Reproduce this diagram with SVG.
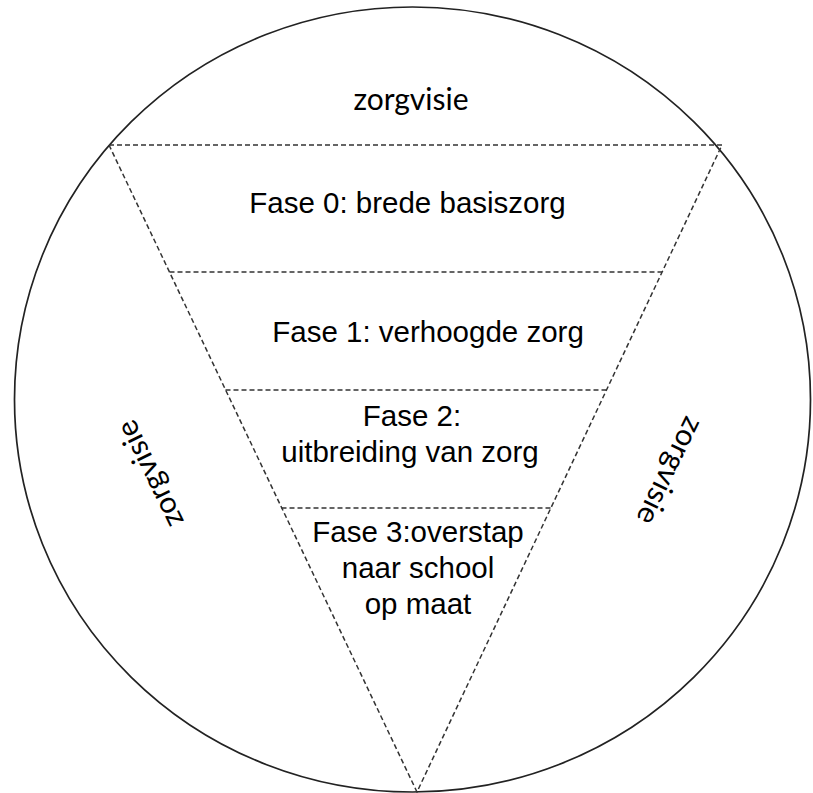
<svg xmlns="http://www.w3.org/2000/svg" width="813" height="793" viewBox="0 0 813 793">
<style>
.outer{fill:none;stroke:#222;stroke-width:1.7}
.dash{fill:none;stroke:#333;stroke-width:1.5;stroke-dasharray:5 3}
.lbl{font-family:"Liberation Sans",Arial,sans-serif;font-size:29.5px;fill:#000;text-anchor:middle}
.vis{font-family:Lato,"Open Sans",sans-serif;font-size:30px;fill:#000;text-anchor:middle}
</style>
<rect width="813" height="793" fill="#fff"/>
<g id="circle">
<ellipse class="outer" cx="412.5" cy="399.5" rx="398" ry="392.5"/>
</g>
<g id="connectors">
<polyline class="dash" points="109,145 722,145 417,792 109,145"/>
<line class="dash" x1="169.5" y1="272" x2="662" y2="272"/>
<line class="dash" x1="225.5" y1="390" x2="606" y2="390"/>
<line class="dash" x1="281.5" y1="508" x2="551" y2="508"/>
</g>
<g id="zorgvisie-top"><text class="vis" x="411" y="110">zorgvisie</text></g>
<g id="zorgvisie-left"><text class="vis" transform="translate(150,474) rotate(-116)" x="0" y="10">zorgvisie</text></g>
<g id="zorgvisie-right"><text class="vis" transform="translate(670,471) rotate(116)" x="0" y="10">zorgvisie</text></g>
<g id="fase0"><text class="lbl" x="407.5" y="213">Fase 0: brede basiszorg</text></g>
<g id="fase1"><text class="lbl" x="428" y="342">Fase 1: verhoogde zorg</text></g>
<g id="fase2"><text class="lbl" x="412" y="426">Fase 2:</text><text class="lbl" x="410" y="462">uitbreiding van zorg</text></g>
<g id="fase3"><text class="lbl" x="418" y="542">Fase 3:overstap</text><text class="lbl" x="418" y="578">naar school</text><text class="lbl" x="418" y="614">op maat</text></g>
</svg>
